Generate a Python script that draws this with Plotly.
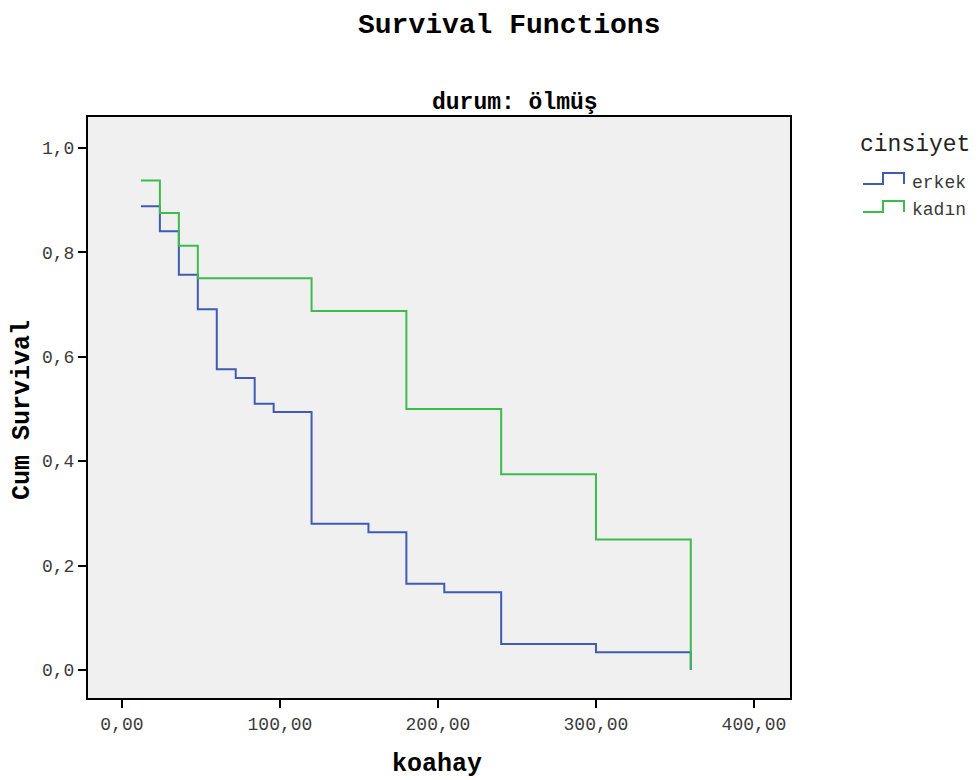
import plotly.graph_objects as go

# Data
erkek_x = [12, 24, 36, 48, 60, 72, 84, 96, 120, 156, 180, 204, 240, 300, 360]
erkek_y = [0.888, 0.840, 0.757, 0.691, 0.576, 0.559, 0.510, 0.494, 0.280, 0.264, 0.165, 0.149, 0.050, 0.034, 0.0]
kadin_x = [12, 24, 36, 48, 120, 180, 240, 300, 360]
kadin_y = [0.9375, 0.875, 0.8125, 0.75, 0.6875, 0.5, 0.375, 0.25, 0.0]

x_ticks = [0, 100, 200, 300, 400]
x_ticklabels = ["0,00", "100,00", "200,00", "300,00", "400,00"]
y_ticks = [0.0, 0.2, 0.4, 0.6, 0.8, 1.0]
y_ticklabels = ["0,0", "0,2", "0,4", "0,6", "0,8", "1,0"]

BLUE = "#3F5BB5"
GREEN = "#3DBB4C"
FONT = "Liberation Mono"

# page body has an 8px margin; lay out in reference pixel coords minus offset
OFF = 8
W, H = 978 - OFF, 780 - OFF
L, R, T, B = 88 - OFF, 978 - 790, 117 - OFF, 780 - 698

fig = go.Figure()
fig.add_trace(go.Scatter(x=erkek_x, y=erkek_y, mode="lines", line=dict(shape="hv", color=BLUE, width=2),
                         name="erkek", showlegend=False))
fig.add_trace(go.Scatter(x=kadin_x, y=kadin_y, mode="lines", line=dict(shape="hv", color=GREEN, width=2),
                         name="kadın", showlegend=False))

axis_common = dict(showline=True, linecolor="black", linewidth=2, mirror=True, ticks="outside",
                   ticklen=8, tickwidth=2, tickcolor="black", showgrid=False, zeroline=False,
                   tickfont=dict(family=FONT, size=18, color="#3a3a3a"))
fig.update_xaxes(range=[-21.5, 422.8], tickvals=x_ticks, ticktext=x_ticklabels, **axis_common)
fig.update_yaxes(range=[-0.0536, 1.059], tickvals=y_ticks, ticktext=y_ticklabels, **axis_common)

def px_x(p):
    return (p - OFF - L) / (W - L - R)

def px_y(p):
    return 1 - (p - OFF - T) / (H - T - B)

def ann(text, x, y, size, color="black", anchor="center", angle=0, yanchor="middle"):
    return dict(text=text, x=px_x(x), y=px_y(y), xref="paper", yref="paper", textangle=angle,
                font=dict(family=FONT, size=size, color=color), showarrow=False,
                xanchor=anchor, yanchor=yanchor)

annotations = [
    ann("<b>Survival Functions</b>", 509, OFF, 28, yanchor="top"),
    ann("<b>durum: ölmüş</b>", 515, 103, 23),
    ann("<b>koahay</b>", 437, 764, 25),
    ann("<b>Cum Survival</b>", 22, 410, 25, angle=-90),
    ann("cinsiyet", 858, 145, 23, color="#222222", anchor="left"),
    ann("erkek", 910, 183, 18, color="#3a3a3a", anchor="left"),
    ann("kadın", 910, 210, 18, color="#3a3a3a", anchor="left"),
]

def step_icon(y_low, y_high, color):
    pts = [(863, y_low), (883, y_low), (883, y_high), (904, y_high), (904, y_low)]
    path = "M " + " L ".join(f"{px_x(a)},{px_y(b)}" for a, b in pts)
    return dict(type="path", path=path, xref="paper", yref="paper",
                line=dict(color=color, width=2))

shapes = [step_icon(184, 173, BLUE), step_icon(212, 201, GREEN)]

fig.update_layout(
    width=W, height=H, margin=dict(l=L, r=R, t=T, b=B),
    paper_bgcolor="white", plot_bgcolor="#F0F0F0",
    annotations=annotations, shapes=shapes, showlegend=False,
    font=dict(family=FONT),
)

fig.write_html("out.html")
